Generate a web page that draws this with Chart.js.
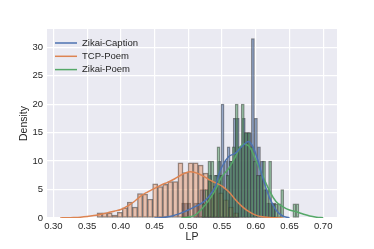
<!DOCTYPE html>
<html>
<head>
<meta charset="utf-8">
<script src="https://cdn.jsdelivr.net/npm/chart.js@4.4.1/dist/chart.umd.min.js"></script>
<style>
html,body{margin:0;padding:0;background:#fff;}
</style>
</head>
<body>
<canvas id="grafico" width="374" height="249"></canvas>
<script>
// ejes
const xTicks = [0.30, 0.35, 0.40, 0.45, 0.50, 0.55, 0.60, 0.65, 0.70];
const yTicks = [0, 5, 10, 15, 20, 25, 30];
const xMin = 0.2905, xMax = 0.7205, yMax = 33.2;

// Zikai-Caption (histograma)
const centrosCaption = [0.4923, 0.4968, 0.5013, 0.5058, 0.5103, 0.5148, 0.5193, 0.5238, 0.5283, 0.5328, 0.5373, 0.5418, 0.5463, 0.5508, 0.5553, 0.5598,
    0.5643, 0.5688, 0.5733, 0.5778, 0.5823, 0.5868, 0.5913, 0.5958, 0.6003, 0.6048, 0.6093, 0.6138, 0.6183, 0.6228, 0.6273, 0.6318];
const densidadCaption = [2.6, 2.6, 2.6, 0, 2.6, 2.6, 5, 5, 2.6, 7.5, 5, 7.5, 10, 20, 10, 12.5,
    10, 17.5, 17.5, 12.5, 17.5, 15, 15, 31.5, 17.5, 12.5, 10, 5, 2.6, 2.6, 2.6, 0];

// TCP-Poem (histograma)
const centrosTCP = [0.3684, 0.3759, 0.3834, 0.3909, 0.3984, 0.4059, 0.4134, 0.4209, 0.4284, 0.4359, 0.4434, 0.4509, 0.4584, 0.4659,
    0.4734, 0.4809, 0.4884, 0.4959, 0.5034, 0.5109, 0.5184, 0.5259, 0.5334, 0.5409, 0.5484, 0.5559, 0.5634, 0.5709];
const densidadTCP = [0.9, 0.9, 0.9, 0.5, 1.0, 1.8, 2.8, 1.9, 4.3, 4.2, 3.3, 6.0, 5.5, 5.9,
    6.4, 6.4, 9.7, 8.0, 9.7, 9.7, 9.3, 7.9, 6.5, 5.6, 4.4, 3.2, 1.9, 0.9];

// Zikai-Poem (histograma)
const centrosPoem = [0.5223, 0.5268, 0.5313, 0.5358, 0.5403, 0.5448, 0.5493, 0.5538, 0.5583, 0.5628, 0.5673, 0.5718, 0.5763, 0.5808, 0.5853, 0.5898,
    0.5943, 0.5988, 0.6033, 0.6078, 0.6123, 0.6168, 0.6213, 0.6258, 0.6303, 0.6348, 0.6393, 0.6438, 0.6483, 0.6528, 0.6573, 0.6618];
const densidadPoem = [2.5, 5, 10, 10, 7.5, 12.5, 7.5, 5, 7.5, 10, 12.5, 20, 12.5, 20, 15, 15,
    12.5, 10, 7.5, 7.5, 10, 5, 10, 2.5, 2.5, 2.5, 5, 0, 0, 0, 2.5, 2.5];

// curvas KDE
const kdeXCaption = [0.45, 0.46, 0.47, 0.48, 0.49, 0.50, 0.51, 0.52, 0.53, 0.54, 0.545, 0.55, 0.56, 0.57, 0.58, 0.59, 0.60, 0.61, 0.62, 0.63, 0.64, 0.65];
const kdeYCaption = [0, 0.05, 0.2, 0.5, 0.9, 1.4, 2.0, 2.6, 3.7, 5.5, 7.5, 9.0, 10.8, 11.4, 12.6, 13.4, 11.3, 7.2, 3.7, 1.4, 0.35, 0.05];
const kdeXTCP = [0.31, 0.32, 0.33, 0.34, 0.35, 0.36, 0.37, 0.38, 0.39, 0.40, 0.41, 0.42, 0.43, 0.44, 0.45, 0.46, 0.47, 0.48,
    0.49, 0.50, 0.51, 0.52, 0.53, 0.54, 0.55, 0.56, 0.57, 0.58, 0.59, 0.60, 0.61, 0.62, 0.63, 0.64];
const kdeYTCP = [0.02, 0.04, 0.08, 0.14, 0.25, 0.42, 0.65, 0.9, 1.2, 1.5, 2.1, 2.9, 3.9, 4.6, 5.2, 5.8, 6.3, 6.9,
    7.6, 8.1, 8.0, 7.5, 6.8, 6.2, 5.6, 4.6, 3.2, 2.0, 1.1, 0.5, 0.2, 0.1, 0.03, 0];
const kdeXPoem = [0.49, 0.50, 0.51, 0.52, 0.53, 0.54, 0.55, 0.56, 0.57, 0.58, 0.59, 0.60, 0.61, 0.62, 0.63, 0.64, 0.65, 0.66, 0.67, 0.68, 0.69, 0.70];
const kdeYPoem = [0.02, 0.15, 0.5, 1.6, 3.0, 4.9, 7.3, 8.7, 10.8, 12.9, 12.6, 10.2, 7.5, 4.9, 2.9, 2.0, 1.4, 1.1, 0.7, 0.35, 0.15, 0.05];

const fuente = '"Liberation Sans", Arial, sans-serif';
const colorTexto = '#262626';

function puntos(xs, ys){
    return xs.map((x, i) => ({x: x, y: ys[i]}));
}

function barras(etiqueta, xs, ys, relleno, eje, orden){
    return {
        type: 'bar',
        label: etiqueta,
        data: puntos(xs, ys),
        xAxisID: eje,
        grouped: false,
        barPercentage: 1,
        categoryPercentage: 1,
        backgroundColor: relleno,
        borderColor: 'rgba(40,40,40,0.55)',
        borderWidth: 0.8,
        borderSkipped: false,
        order: orden
    };
}

function linea(etiqueta, xs, ys, color){
    return {
        type: 'line',
        label: etiqueta,
        data: puntos(xs, ys),
        xAxisID: 'x',
        borderColor: color,
        borderWidth: 1.5,
        pointRadius: 0,
        tension: 0.4,
        fill: false,
        order: 0
    };
}

function ejeOculto(){
    return {type: 'linear', display: false, min: xMin, max: xMax, offset: false, grid: {offset: false}};
}

const fondo = {
    id: 'fondo',
    beforeDraw(chart){
        const a = chart.chartArea;
        chart.ctx.save();
        chart.ctx.fillStyle = '#EAEAF2';
        chart.ctx.fillRect(a.left, a.top, a.right - a.left, a.bottom - a.top);
        chart.ctx.restore();
    }
};

const leyenda = {
    id: 'leyenda',
    afterDraw(chart){
        const ctx = chart.ctx;
        const a = chart.chartArea;
        let y = a.top + 14;
        chart.data.datasets.filter(d => d.type === 'line').forEach(d => {
            ctx.save();
            ctx.strokeStyle = d.borderColor;
            ctx.lineWidth = 1.5;
            ctx.beginPath();
            ctx.moveTo(a.left + 8, y);
            ctx.lineTo(a.left + 30, y);
            ctx.stroke();
            ctx.fillStyle = colorTexto;
            ctx.font = '9.5px ' + fuente;
            ctx.textBaseline = 'middle';
            ctx.fillText(d.label, a.left + 35, y);
            ctx.restore();
            y += 13.3;
        });
    }
};

const ctx = document.getElementById('grafico');
const myChart = new Chart(ctx, {
    type: 'line',
    data: {
        datasets: [
            linea('Zikai-Caption', kdeXCaption, kdeYCaption, '#4C72B0'),
            linea('TCP-Poem', kdeXTCP, kdeYTCP, '#DD8452'),
            linea('Zikai-Poem', kdeXPoem, kdeYPoem, '#55A868'),
            barras('Zikai-Caption', centrosCaption, densidadCaption, 'rgba(76,114,176,0.45)', 'xc', 3),
            barras('TCP-Poem', centrosTCP, densidadTCP, 'rgba(221,132,82,0.42)', 'xt', 2),
            barras('Zikai-Poem', centrosPoem, densidadPoem, 'rgba(85,168,104,0.45)', 'xp', 1)
        ]
    },
    options: {
        responsive: false,
        animation: false,
        layout: {padding: {top: 29, right: 37, left: 0, bottom: 0}},
        plugins: {legend: {display: false}, tooltip: {enabled: false}},
        scales: {
            x: {
                type: 'linear',
                min: xMin,
                max: xMax,
                offset: false,
                afterBuildTicks: s => { s.ticks = xTicks.map(v => ({value: v})); },
                afterFit: s => { s.height = 31; },
                ticks: {
                    callback: v => v.toFixed(2),
                    autoSkip: false,
                    maxRotation: 0,
                    padding: 3,
                    color: colorTexto,
                    font: {family: fuente, size: 9.5}
                },
                grid: {color: '#ffffff', lineWidth: 1.2, drawTicks: false, offset: false},
                border: {display: false},
                title: {display: true, text: 'LP', color: colorTexto, font: {family: fuente, size: 10.5}, padding: {top: 0, bottom: 6}}
            },
            xc: ejeOculto(),
            xt: ejeOculto(),
            xp: ejeOculto(),
            y: {
                type: 'linear',
                min: 0,
                max: yMax,
                afterBuildTicks: s => { s.ticks = yTicks.map(v => ({value: v})); },
                afterFit: s => { s.width = 47; },
                ticks: {
                    padding: 4,
                    color: colorTexto,
                    font: {family: fuente, size: 9.5}
                },
                grid: {color: '#ffffff', lineWidth: 1.2, drawTicks: false},
                border: {display: false},
                title: {display: true, text: 'Density', color: colorTexto, font: {family: fuente, size: 10.5}, padding: {top: 18, bottom: 0}}
            }
        }
    },
    plugins: [fondo, leyenda]
});
</script>
</body>
</html>
